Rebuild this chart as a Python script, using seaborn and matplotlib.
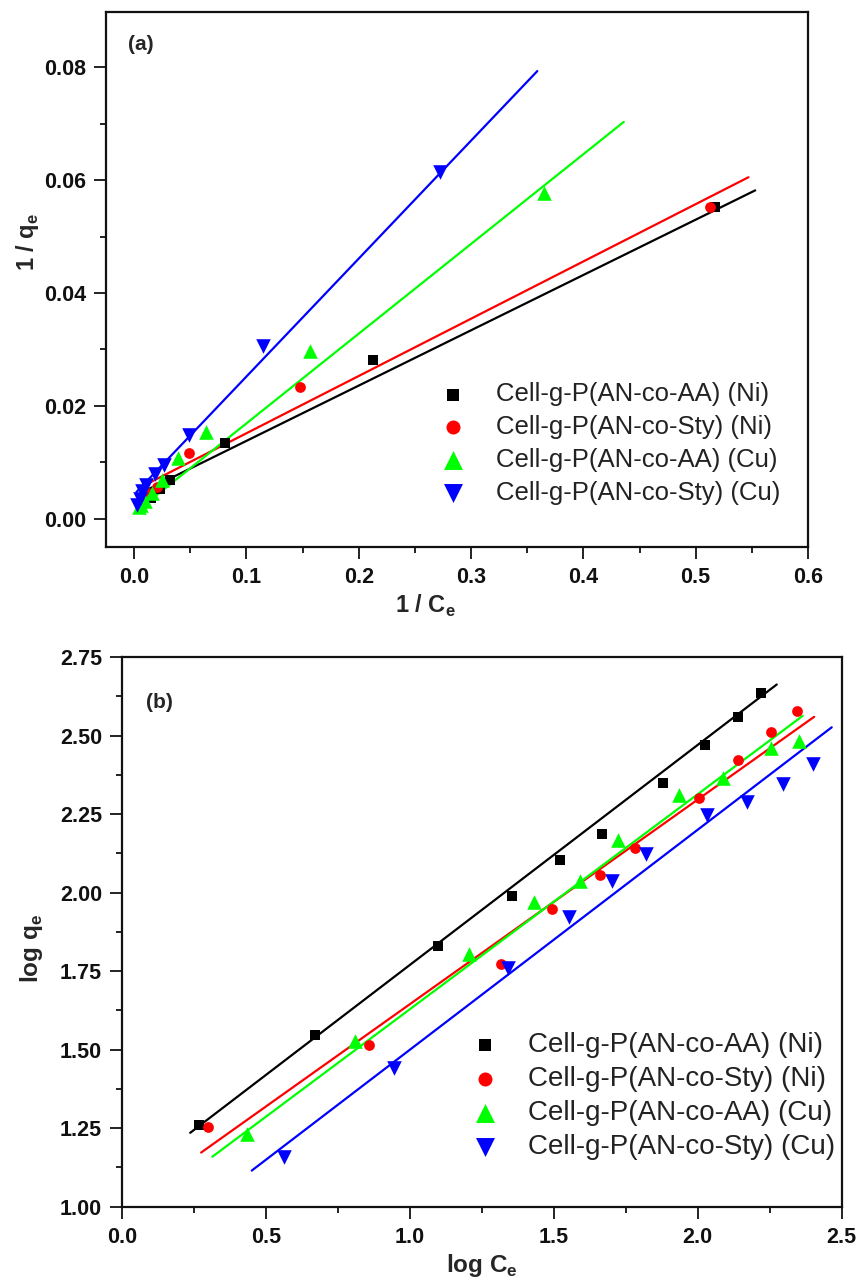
import numpy as np
import pandas as pd
import matplotlib
matplotlib.use("Agg")
import matplotlib.pyplot as plt
import seaborn as sns
from matplotlib.ticker import MultipleLocator

# ---------------- data ----------------
series_labels = ["Cell-g-P(AN-co-AA) (Ni)", "Cell-g-P(AN-co-Sty) (Ni)",
                 "Cell-g-P(AN-co-AA) (Cu)", "Cell-g-P(AN-co-Sty) (Cu)"]
colors = ["#000000", "#FF0000", "#00FF00", "#0000FF"]
markers = ["s", "o", "^", "v"]
marker_sizes = [50, 60, 110, 110]

# (a) Langmuir: 1/Ce vs 1/qe
a_x_ni_aa = [0.517, 0.213, 0.081, 0.032, 0.023, 0.015, 0.010, 0.006]
a_y_ni_aa = [0.0552, 0.0282, 0.0135, 0.0068, 0.0052, 0.0036, 0.0030, 0.0025]
a_x_ni_sty = [0.513, 0.148, 0.049, 0.020, 0.012, 0.008]
a_y_ni_sty = [0.0553, 0.0234, 0.0117, 0.0056, 0.0045, 0.0035]
a_x_cu_aa = [0.365, 0.157, 0.064, 0.039, 0.025, 0.016, 0.010, 0.006, 0.004]
a_y_cu_aa = [0.0578, 0.0298, 0.0154, 0.0108, 0.0068, 0.0045, 0.0032, 0.0024, 0.0020]
a_x_cu_sty = [0.272, 0.115, 0.049, 0.027, 0.019, 0.011, 0.007, 0.005, 0.003]
a_y_cu_sty = [0.0614, 0.0307, 0.0148, 0.0096, 0.0080, 0.0060, 0.0050, 0.0035, 0.0025]
a_fit_slope = [0.098, 0.1015, 0.159, 0.209]
a_fit_intercept = [0.0040, 0.0050, 0.0010, 0.0043]
a_fit_xmin = [0.0098, 0.0107, 0.004, 0.002]
a_fit_xmax = [0.553, 0.547, 0.436, 0.359]

# (b) Freundlich: log Ce vs log qe
b_x_ni_aa = [0.267, 0.669, 1.097, 1.353, 1.521, 1.666, 1.878, 2.025, 2.139, 2.220]
b_y_ni_aa = [1.260, 1.546, 1.830, 1.990, 2.105, 2.188, 2.350, 2.469, 2.559, 2.636]
b_x_ni_sty = [0.297, 0.859, 1.315, 1.495, 1.660, 1.782, 2.006, 2.139, 2.254, 2.347]
b_y_ni_sty = [1.254, 1.514, 1.772, 1.949, 2.057, 2.142, 2.301, 2.421, 2.511, 2.578]
b_x_cu_aa = [0.432, 0.809, 1.206, 1.431, 1.591, 1.724, 1.935, 2.087, 2.254, 2.353]
b_y_cu_aa = [1.233, 1.527, 1.806, 1.970, 2.037, 2.166, 2.312, 2.366, 2.461, 2.484]
b_x_cu_sty = [0.562, 0.946, 1.340, 1.553, 1.703, 1.819, 2.031, 2.170, 2.295, 2.400]
b_y_cu_sty = [1.159, 1.441, 1.760, 1.922, 2.037, 2.124, 2.246, 2.288, 2.347, 2.410]
b_fit_slope = [0.700, 0.651, 0.684, 0.700]
b_fit_intercept = [1.070, 0.994, 0.945, 0.800]
b_fit_xmin = [0.236, 0.274, 0.313, 0.450]
b_fit_xmax = [2.275, 2.405, 2.365, 2.466]

a_xs = [a_x_ni_aa, a_x_ni_sty, a_x_cu_aa, a_x_cu_sty]
a_ys = [a_y_ni_aa, a_y_ni_sty, a_y_cu_aa, a_y_cu_sty]
b_xs = [b_x_ni_aa, b_x_ni_sty, b_x_cu_aa, b_x_cu_sty]
b_ys = [b_y_ni_aa, b_y_ni_sty, b_y_cu_aa, b_y_cu_sty]

# ---------------- style ----------------
sns.set_theme(style="ticks")
plt.rcParams["font.family"] = ["Liberation Sans", "DejaVu Sans"]
plt.rcParams["mathtext.fontset"] = "custom"
plt.rcParams["mathtext.rm"] = "Liberation Sans"
plt.rcParams["mathtext.bf"] = "Liberation Sans:bold"

fig = plt.figure(figsize=(8.6, 12.84), dpi=100)
ax_a = fig.add_axes([106 / 860, 1 - 547 / 1284, 702 / 860, 535 / 1284])
ax_b = fig.add_axes([122.3 / 860, 1 - 1206.7 / 1284, 719.2 / 860, 549.7 / 1284])


def draw(ax, xs, ys, slopes, intercepts, xmins, xmaxs):
    for i in range(4):
        xl = np.array([xmins[i], xmaxs[i]])
        yl = intercepts[i] + slopes[i] * xl
        sns.lineplot(x=xl, y=yl, ax=ax, color=colors[i], lw=1.6,
                     estimator=None, sort=False, legend=False)
    for i in range(4):
        df = pd.DataFrame({"x": xs[i], "y": ys[i]})
        sns.scatterplot(data=df, x="x", y="y", ax=ax, color=colors[i],
                        marker=markers[i], s=marker_sizes[i], linewidth=0,
                        label=series_labels[i], zorder=3)


def style_axes(ax):
    for sp in ax.spines.values():
        sp.set_linewidth(1.6)
        sp.set_color("#111111")
    ax.tick_params(which="both", direction="out", top=False, right=False,
                   width=1.3, colors="#111111")
    ax.tick_params(which="major", length=8.5, pad=6, labelsize=15.5)
    ax.tick_params(which="minor", length=4)
    for lab in ax.get_xticklabels() + ax.get_yticklabels():
        lab.set_fontweight("bold")


# ---------------- panel (a) ----------------
draw(ax_a, a_xs, a_ys, a_fit_slope, a_fit_intercept, a_fit_xmin, a_fit_xmax)
ax_a.set_xlim(-0.025, 0.6)
ax_a.set_ylim(-0.005, 0.0898)
ax_a.set_xticks(np.arange(0, 0.61, 0.1))
ax_a.set_xticklabels(["0.0", "0.1", "0.2", "0.3", "0.4", "0.5", "0.6"])
ax_a.xaxis.set_minor_locator(MultipleLocator(0.05))
ax_a.set_yticks(np.arange(0, 0.081, 0.02))
ax_a.set_yticklabels(["0.00", "0.02", "0.04", "0.06", "0.08"])
ax_a.yaxis.set_minor_locator(MultipleLocator(0.01))
style_axes(ax_a)
ax_a.set_xlabel(r"1 / C$_\mathbf{e}$", fontsize=17, fontweight="bold")
ax_a.set_ylabel(r"1 / q$_\mathbf{e}$", fontsize=17, fontweight="bold")
ax_a.xaxis.set_label_coords(0.455, -0.085)
ax_a.yaxis.set_label_coords(-0.092, 0.57)
ax_a.text(0.031, 0.94, "(a)", transform=ax_a.transAxes, fontsize=15,
          fontweight="bold", va="center", ha="left")
ax_a.legend(loc="upper left", bbox_to_anchor=(0.465, 0.327), frameon=False,
            fontsize=18.5, handlelength=0.8, handletextpad=1.27,
            labelspacing=0.34, markerscale=1.3, borderaxespad=0,
            labelcolor="#222222")

# ---------------- panel (b) ----------------
draw(ax_b, b_xs, b_ys, b_fit_slope, b_fit_intercept, b_fit_xmin, b_fit_xmax)
ax_b.set_xlim(0, 2.5)
ax_b.set_ylim(1.0, 2.75)
ax_b.set_xticks(np.arange(0, 2.51, 0.5))
ax_b.set_xticklabels(["0.0", "0.5", "1.0", "1.5", "2.0", "2.5"])
ax_b.xaxis.set_minor_locator(MultipleLocator(0.25))
ax_b.set_yticks(np.arange(1.0, 2.76, 0.25))
ax_b.set_yticklabels(["1.00", "1.25", "1.50", "1.75", "2.00", "2.25", "2.50", "2.75"])
ax_b.yaxis.set_minor_locator(MultipleLocator(0.125))
style_axes(ax_b)
ax_b.set_xlabel(r"log C$_\mathbf{e}$", fontsize=17.5, fontweight="bold")
ax_b.set_ylabel(r"log q$_\mathbf{e}$", fontsize=17.5, fontweight="bold")
ax_b.xaxis.set_label_coords(0.5, -0.083)
ax_b.yaxis.set_label_coords(-0.107, 0.47)
ax_b.text(0.033, 0.918, "(b)", transform=ax_b.transAxes, fontsize=15,
          fontweight="bold", va="center", ha="left")
ax_b.legend(loc="upper left", bbox_to_anchor=(0.473, 0.338), frameon=False,
            fontsize=20, handlelength=0.8, handletextpad=1.15,
            labelspacing=0.29, markerscale=1.3, borderaxespad=0,
            labelcolor="#222222")

fig.savefig("out.png", dpi=100, facecolor="white")
